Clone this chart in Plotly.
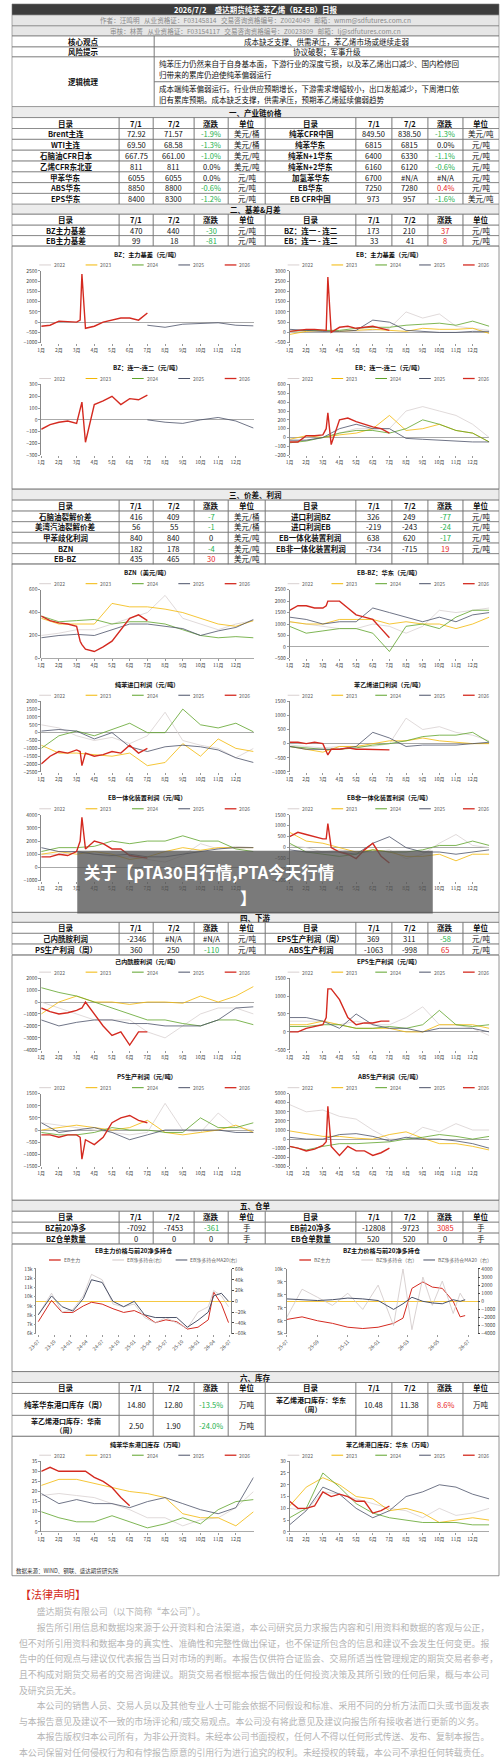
import plotly.graph_objects as go

W, H = 500, 1764
FONT = "Noto Sans CJK SC"

# ---------------- table data ----------------
TITLE = "2026/7/2     盛达期货纯苯-苯乙烯（BZ-EB）日报"
AUTHOR = "作者：汪鸣明   从业资格证：F03145814   交易咨询资格编号：Z0024049   邮箱：wmm@sdfutures.com.cn"
REVIEW = "审核：林菁   从业资格证：F03154117   交易咨询资格编号：Z0023809   邮箱：lj@sdfutures.com.cn"
CORE = "成本缺乏支撑、供需承压，苯乙烯市场或继续走弱"
RISK = "协议破裂；军事升级"
LOGIC1 = ["纯苯压力仍然来自于自身基本面，下游行业的深度亏损，以及苯乙烯出口减少、国内检修回",
          "归带来的累库仍迫使纯苯偏弱运行"]
LOGIC2 = ["成本端纯苯偏弱运行。行业供应预期增长，下游需求增幅较小，出口发船减少，下周港口依",
          "旧有累库预期。成本缺乏支撑，供需承压，预期苯乙烯延续偏弱趋势"]
HEAD = ["目录", "7/1", "7/2", "涨跌", "单位", "目录", "7/1", "7/2", "涨跌", "单位"]

SEC1 = [
    ["Brent主连", "72.92", "71.57", "-1.9%", "美元/桶", "纯苯CFR中国", "849.50", "838.50", "-1.3%", "美元/吨"],
    ["WTI主连", "69.50", "68.58", "-1.3%", "美元/桶", "纯苯华东", "6815", "6815", "0.0%", "元/吨"],
    ["石脑油CFR日本", "667.75", "661.00", "-1.0%", "美元/吨", "纯苯N+1华东", "6400", "6330", "-1.1%", "元/吨"],
    ["乙烯CFR东北亚", "811", "811", "0.0%", "美元/吨", "纯苯N+2华东", "6160", "6120", "-0.6%", "元/吨"],
    ["甲苯华东", "6055", "6055", "0.0%", "元/吨", "加氢苯华东", "6700", "#N/A", "#N/A", "元/吨"],
    ["ABS华东", "8850", "8800", "-0.6%", "元/吨", "EB华东", "7250", "7280", "0.4%", "元/吨"],
    ["EPS华东", "8400", "8300", "-1.2%", "元/吨", "EB CFR中国", "973", "957", "-1.6%", "美元/吨"],
]
SEC2 = [
    ["BZ主力基差", "470", "440", "-30", "元/吨", "BZ：连一 - 连二", "173", "210", "37", "元/吨"],
    ["EB主力基差", "99", "18", "-81", "元/吨", "EB：连一 - 连二", "33", "41", "8", "元/吨"],
]
SEC3 = [
    ["石脑油裂解价差", "416", "409", "-7", "美元/桶", "进口利润BZ", "326", "249", "-77", "元/吨"],
    ["美湾汽油裂解价差", "56", "55", "-1", "美元/桶", "进口利润EB", "-219", "-243", "-24", "元/吨"],
    ["甲苯歧化利润", "840", "840", "0", "美元/吨", "EB一体化装置利润", "638", "620", "-17", "元/吨"],
    ["BZN", "182", "178", "-4", "美元/吨", "EB非一体化装置利润", "-734", "-715", "19", "元/吨"],
    ["EB-BZ", "435", "465", "30", "美元/吨", "", "", "", "", ""],
]
SEC4 = [
    ["己内酰胺利润", "-2346", "#N/A", "#N/A", "元/吨", "EPS生产利润（周）", "369", "311", "-58", "元/吨"],
    ["PS生产利润（周）", "360", "250", "-110", "元/吨", "ABS生产利润", "-1063", "-998", "65", "元/吨"],
]
SEC5 = [
    ["BZ前20净多", "-7092", "-7453", "-361", "手", "EB前20净多", "-12808", "-9723", "3085", "手"],
    ["BZ仓单数量", "0", "0", "0", "手", "EB仓单数量", "520", "520", "0", "手"],
]
SEC6 = [
    ["纯苯华东港口库存（周）", "14.80", "12.80", "-13.5%", "万吨", "苯乙烯港口库存：华东<br>（周）", "10.48", "11.38", "8.6%", "万吨"],
    ["苯乙烯港口库存：华南<br>（周）", "2.50", "1.90", "-24.0%", "万吨", "", "", "", "", ""],
]

# ---------------- seasonal chart data (month 1..13) ----------------
MONTHS = list(range(1, 14))
X26 = [1, 1.5, 2, 2.5, 3, 3.2, 3.3, 3.5, 4, 4.5, 5, 5.5, 6, 6.5, 7]
X26_INV = [1, 1.5, 2, 2.5, 3, 3.5, 4, 4.5, 5, 5.5, 6, 6.5, 7]
N = None

bz_basis = {
    "2025": [N, N, N, N, N, N, -150, -250, -100, -50, -30, -150, -180],
    "2026": [-200, -150, 50, 30, 0, 100, 2350, -300, -200, 0, 100, 200, 200, 100, 450],
}
eb_basis = {
    "2022": [0, 50, 50, 0, 50, 100, 200, 1000, 700, 900, 300, 200, 100],
    "2023": [-100, 50, 100, 50, 100, 150, 100, 50, 200, 150, 150, 200, -50],
    "2024": [50, 100, 100, 100, 200, 250, 250, 350, 400, 450, 350, 550, 300],
    "2025": [150, 100, 50, 50, 100, 600, 500, 100, 50, 0, 0, 50, 50],
    "2026": [50, 100, 150, 150, 100, 100, 2700, 0, 250, 300, 200, 250, 300, 200, 100],
}
bz_spread = {
    "2025": [N, N, N, N, N, N, 0, -20, -30, 0, 20, -10, -70],
    "2026": [-80, -40, -20, -10, -30, 80, 150, -190, 130, 160, 200, 130, 180, 170, 210],
}
eb_spread = {
    "2022": [-40, -30, 0, 50, 100, 100, 100, 300, 350, 300, 250, 150, 0],
    "2023": [-20, 20, 0, 30, 50, 100, 250, 80, 100, 150, 80, 50, -50],
    "2024": [-60, -40, 0, 50, 80, 80, 50, 100, 200, 150, 80, 50, -50],
    "2025": [-30, -30, 0, 100, 150, 100, 100, -10, -20, -30, -40, -50, -50],
    "2026": [-50, -50, 20, 20, 30, 100, 280, -80, 200, 220, 180, 150, 120, 100, 50],
}
bzn = {
    "2022": [200, 220, 250, 250, 300, 350, 400, 550, 350, 300, 250, 300, 330],
    "2023": [350, 300, 300, 300, 480, 450, 450, 430, 400, 350, 300, 280, 330],
    "2024": [370, 320, 330, 340, 300, 320, 320, 300, 250, 200, 180, 190, 180],
    "2025": [180, 200, 210, 200, 250, 300, 300, 280, 260, 200, 240, 270, 340],
    "2026": [370, 330, 310, 300, 280, 150, 120, 80, 60, 100, 150, 250, 350, 380, 330],
}
eb_bz = {
    "2022": [1100, 1000, 900, 800, 800, 1000, 900, 600, 900, 1600, 1500, 1600, 1700],
    "2023": [1100, 1000, 1000, 1200, 1200, 1200, 1000, 1100, 1000, 1000, 800, 1000, 1300],
    "2024": [900, 600, 700, 800, 800, 600, -200, 900, 1000, 800, 1300, 1600, 1600],
    "2025": [1300, 1200, 1000, 1100, 1100, 1700, 1500, 1300, 1100, 1300, 1100, 1400, 1500],
    "2026": [1600, 1800, 1800, 1700, 1700, 1800, 2000, 2000, 2000, 1700, 1400, 1300, 1200, 800, 400],
}
bz_import = {
    "2022": [500, 300, -200, -500, -300, -700, -200, 1300, -500, -800, -1000, -1600, -1000],
    "2023": [-800, -1300, -1300, -1400, -1500, -1300, -2100, -1900, -700, -1500, -400, -1000, -1200],
    "2024": [-1000, -200, 100, -200, 200, 600, 0, 0, 1500, 500, 300, 600, 50],
    "2025": [100, 200, 100, -400, 0, -900, -1200, -900, -800, -900, -1100, -1600, -1900],
    "2026": [-2000, -1500, -1200, -1300, -1100, -1200, -2100, -1300, -1500, -1400, -1200, -1300, -800, -1300, -1000],
}
eb_import = {
    "2022": [-50, -100, -150, -100, -100, -100, 0, 900, 500, 600, 400, 300, 100],
    "2023": [-100, -200, -300, -100, -100, 0, 100, 100, 200, 100, 50, 0, 0],
    "2024": [-100, -150, -200, -200, -150, -50, 0, 100, 250, 300, 300, 400, 50],
    "2025": [-100, -200, -200, -200, -100, 400, 200, -100, -50, -50, -50, 0, 50],
    "2026": [50, 50, 0, 50, 0, -300, -400, -200, -200, -150, -200, -200, -200, -200, -220],
}
eb_integ = {
    "2022": [1000, 1000, 1200, 1000, 800, 800, 600, 400, 900, 1800, 1400, 1600, 1500],
    "2023": [1000, 1200, 1000, 1200, 1000, 600, 800, 1200, 1500, 1300, 1500, 1500, 1500],
    "2024": [1200, 1500, 1500, 1600, 2000, 1800, 2000, 2000, 2400, 2000, 2000, 1400, 1200],
    "2025": [1500, 1200, 1200, 1000, 900, 1000, 800, 800, 1000, 1200, 1400, 1500, 1500],
    "2026": [800, 800, 1000, 900, 1200, 2000, 3800, 1400, 2000, 1800, 1400, 1400, 900, 800, 700],
}
eb_nonint = {
    "2022": [100, 0, -200, -100, -200, -200, -100, -500, -300, 200, 600, 100, 0],
    "2023": [700, 300, 200, 0, -200, -100, -200, -400, -400, -300, -600, -300, -300],
    "2024": [200, -200, -300, -400, -300, -100, -200, -200, -100, 100, 100, 300, 100],
    "2025": [-100, -200, -200, -200, -300, 200, 500, 0, -200, -200, -300, -200, -100],
    "2026": [500, 700, 600, 500, 400, 400, 1100, 0, -200, -300, -500, -100, 200, -400, -700],
}
cpl = {
    "2022": [0, -500, -1000, -1500, -1500, -1500, -2500, -3000, -2000, -1000, -500, -500, -1000],
    "2023": [-1000, 0, 500, 0, 0, -200, 0, 0, -100, 500, 0, 500, 1300],
    "2024": [1200, 800, 500, 0, -500, -1000, -1500, -1500, -1800, -2000, -1500, -1500, -1900],
    "2025": [-1500, -2000, -1700, -1500, -1500, -1800, -1800, -2000, -2000, -2000, -1500, -500, -400],
    "2026": [-500, -800, -1000, -900, -700, -600, -500, 0, -1000, -2000, -2800, -2500, -3600, -2500, -2500],
}
eps = {
    "2022": [300, 300, 300, 200, 300, 200, 200, 400, 700, 200, 200, 100, -100],
    "2023": [200, 200, 300, 200, 100, 100, 100, 0, 0, 200, 200, 200, 100],
    "2024": [150, 150, 200, 200, 100, 100, 150, 100, 200, 600, 200, 150, 200],
    "2025": [400, 400, 300, 100, 500, 200, 100, 100, 0, 100, 100, 100, 0],
    "2026": [0, 0, 100, 150, 200, 400, 1200, 1200, 900, 400, 200, 250, 250, 300, 300],
}
ps = {
    "2022": [300, 200, 100, 0, -100, -200, -100, 1100, 0, -100, 700, 100, 0],
    "2023": [0, 100, 200, 100, 0, 100, 400, -100, -200, -100, 0, 200, -100],
    "2024": [-100, -200, -200, -100, 100, 0, 0, -100, -100, 500, 100, 100, 300],
    "2025": [300, -100, 0, 100, -100, -400, -200, 0, 0, 0, 0, -100, -100],
    "2026": [-200, -200, -300, -200, -200, -300, -1200, -400, -600, -300, 300, 500, 600, 400, 300],
}
abs_ = {
    "2022": [3800, 3000, 3200, 2500, 2200, 1000, 0, 0, 1300, 800, 1700, 1000, 1000],
    "2023": [900, 600, 300, 300, 100, 0, 500, 800, 100, -500, -500, -800, -1200],
    "2024": [-800, -1200, -800, -500, -500, -400, -300, 0, 200, 500, 300, 0, 300],
    "2025": [200, 0, 0, 500, 600, 300, -200, 200, 0, 0, -200, -500, -1000],
    "2026": [-800, -1000, -1300, -1100, -700, -300, 3600, -800, -1800, -800, -1300, -1300, -1800, -1500, -1000],
}
bz_inv = {
    "2022": [18, 19, 18, 17, 14, 11, 7, 7, 3, 6, 7, 12, 20],
    "2023": [23, 26, 26, 24, 22, 20, 19, 17, 9, 7, 7, 3, 10],
    "2024": [10, 7, 5, 5, 8, 5, 2, 4, 7, 4, 11, 15, 16],
    "2025": [19, 14, 16, 14, 14, 12, 15, 17, 14, 11, 9, 12, 27],
    "2026": [30, 32, 30, 30, 30, 30, 27, 25, 22, 17, 13],
}
eb_inv = {
    "2022": [10, 9, 17, 16, 14, 12, 10, 9, 6, 10, 7, 8, 10],
    "2023": [11, 19, 23, 20, 15, 14, 9, 10, 8, 4, 5, 6, 5],
    "2024": [6, 10, 25, 19, 12, 8, 6, 5, 4, 4, 4, 3, 3],
    "2025": [3, 9, 19, 16, 10, 6, 9, 15, 17, 20, 19, 16, 14],
    "2026": [13, 10, 10, 11, 17, 15, 16, 15, 13, 13, 8, 9, 11],
}

# futures price vs top-20 net long
EB_DATES = ["2023-07-01", "2023-09-15", "2023-11-15", "2024-01-15", "2024-03-15", "2024-05-01",
            "2024-07-01", "2024-09-01", "2024-11-01", "2025-01-01", "2025-03-01", "2025-05-01",
            "2025-07-01", "2025-09-01", "2025-11-01", "2026-01-01", "2026-03-01", "2026-04-01",
            "2026-05-15", "2026-06-25"]
EB_PRICE = [7300, 9600, 8300, 8300, 9000, 9400, 9200, 8700, 8300, 8500, 8000, 7200,
            7500, 7300, 6500, 6700, 7500, 10500, 9200, 7200]
EB_NET = [-25000, 15000, -20000, -15000, 10000, 50000, 40000, -5000, -10000, -5000, -30000,
          -40000, -30000, -40000, -50000, -20000, -10000, 20000, 10000, -10000]
EB_MA20 = [-25000, 10000, -10000, -18000, 5000, 40000, 35000, 0, -10000, 0, -25000, -30000,
           -30000, -30000, -48000, -35000, -20000, 10000, 15000, 0]

BZ_DATES = ["2025-07-01", "2025-08-01", "2025-09-01", "2025-10-01", "2025-11-01", "2025-12-01",
            "2026-01-01", "2026-02-01", "2026-02-20", "2026-03-10", "2026-04-01", "2026-04-20",
            "2026-05-10", "2026-06-01", "2026-06-15", "2026-06-25"]
BZ_PRICE = [6100, 6300, 6000, 5800, 5500, 5400, 5500, 5800, 6200, 8500, 9000, 8600, 8500, 7500, 6300, 6400]
BZ_NET = [-2000, 1500, 500, -500, 1000, -1000, 2000, -3000, 4000, -3500, 3000, -500, 2500, -1500, 1000, 0]
BZ_MA20 = [300, 200, 100, 200, 400, 300, 100, -1000, -300, 500, 0, -200, -300, 200, 0, 200]

LEGAL = [
    ("　　盛达期货有限公司（以下简称“本公司”）。", 1614),
    ("　　报告所引用信息和数据均来源于公开资料和合法渠道，本公司研究员力求报告内容和引用资料和数据的客观与公正，", 1630),
    ("但不对所引用资料和数据本身的真实性、准确性和完整性做出保证，也不保证所包含的信息和建议不会发生任何变更。报", 1646),
    ("告中的任何观点与建议仅代表报告当日对市场的判断。本报告仅供符合证监会、交易所适当性管理规定的期货交易者参考，", 1661),
    ("且不构成对期货交易者的交易咨询建议。期货交易者根据本报告做出的任何投资决策及其所引致的任何后果，概与本公司", 1677),
    ("及研究员无关。", 1693),
    ("　　本公司的销售人员、交易人员以及其他专业人士可能会依据不同假设和标准、采用不同的分析方法而口头或书面发表", 1708),
    ("与本报告意见及建议不一致的市场评论和/或交易观点。本公司没有将此意见及建议向报告所有接收者进行更新的义务。", 1724),
    ("　　本报告版权归本公司所有，为非公开资料。未经本公司书面授权，任何人不得以任何形式传送、发布、复制本报告。", 1739),
    ("本公司保留对任何侵权行为和有悖报告原意的引用行为进行追究的权利。未经授权的转载，本公司不承担任何转载责任。", 1755),
]

COLORS = {"2022": "#d8d0d0", "2023": "#f2b705", "2024": "#5ea32a", "2025": "#4b5268", "2026": "#d42a20"}
COLS = [0, 110, 145, 187, 222, 260, 353, 390, 427, 463, 500]

fig = go.Figure()
shapes, annos = [], []


def px(x):
    return x / W


def py(y):
    return 1 - y / H


def rect(x0, y0, x1, y1, fill=None, line="#777", lw=0.6):
    shapes.append(dict(type="rect", xref="paper", yref="paper", x0=px(x0), x1=px(x1),
                       y0=py(y1), y1=py(y0), fillcolor=fill or "rgba(0,0,0,0)",
                       line=dict(color=line, width=lw), layer="below"))


def text(x, y, s, size=7.5, color="#111", bold=False, anchor="center", angle=0):
    if bold:
        s = "<b>" + s + "</b>"
    annos.append(dict(x=px(x), y=py(y), xref="paper", yref="paper", text=s, showarrow=False,
                      xanchor=anchor, yanchor="middle", textangle=angle,
                      font=dict(size=size, color=color, family=FONT)))


def chg_color(s):
    if s.startswith("-"):
        return "#22b04a"
    if s in ("0", "0.0%", "#N/A", ""):
        return "#111"
    return "#e8241c"


def table_row(y0, y1, cells, head=False):
    for i, c in enumerate(cells):
        x0, x1 = COLS[i], COLS[i + 1]
        rect(x0, y0, x1, y1)
        col = chg_color(c) if (i in (3, 8) and not head) else "#111"
        bold = head or i in (0, 5)
        size = 7 if "<br>" in c else 7.5
        text((x0 + x1) / 2, (y0 + y1) / 2, c, size=size, color=col, bold=bold)


def section(y0, y1, title):
    rect(0, y0, 500, y1, fill="#ececec")
    text(250, (y0 + y1) / 2, title, size=7.5, bold=True)


def table(y0, rows, rh=10.7):
    table_row(y0, y0 + 11, HEAD, head=True)
    y = y0 + 11
    for r in rows:
        table_row(y, y + rh, r)
        y += rh


# ---------------- top block ----------------
rect(0, 0, 500, 11, fill="#3d3d3d")
text(250, 5.5, TITLE, size=7.5, color="white", bold=True)
rect(0, 11, 500, 22, fill="#e6e6e6")
text(250, 16.5, AUTHOR, size=6.6, color="#8a8a8a")
rect(0, 22, 500, 32, fill="#e6e6e6")
text(250, 27, REVIEW, size=6.6, color="#8a8a8a")
rect(0, 32, 146, 43); rect(146, 32, 500, 43)
text(73, 37.5, "核心观点", bold=True); text(323, 37.5, CORE)
rect(0, 43, 146, 53); rect(146, 43, 500, 53)
text(73, 48, "风险提示", bold=True); text(323, 48, RISK)
rect(0, 53, 146, 103); rect(146, 53, 500, 78); rect(146, 78, 500, 103)
text(73, 78, "逻辑梳理", bold=True)
text(149, 60, LOGIC1[0], anchor="left"); text(149, 71, LOGIC1[1], anchor="left")
text(149, 85, LOGIC2[0], anchor="left"); text(149, 96, LOGIC2[1], anchor="left")

section(103, 114, "一、产业链价格")
table(114, SEC1, rh=10.86)
section(201, 211, "二、基差&月差")
table(211, SEC2, rh=10.5)
section(487, 498, "三、价差、利润")
table(498, SEC3, rh=10.7)
section(912, 922, "四、下游")
table(922, SEC4, rh=10.7)
section(1201, 1212, "五、仓单")
table(1212, SEC5, rh=10.9)
section(1373, 1384, "六、库存")
table_row(1384, 1395, HEAD, head=True)
table_row(1395, 1417, SEC6[0])
table_row(1417, 1438, SEC6[1])

# frames around chart areas
for y0, y1 in [(243, 487), (562, 912), (955, 1201), (1245, 1373), (1438, 1578)]:
    rect(0, y0, 500, y1, line="#777", lw=0.8)

# ---------------- charts ----------------
layout_axes = {}
ax_n = [0]


def new_axes(x0, x1, y0, y1, yrange, dtick, xtype="linear", xrange=None, xticks=None):
    ax_n[0] += 1
    n = ax_n[0]
    xa = "xaxis" if n == 1 else "xaxis%d" % n
    ya = "yaxis" if n == 1 else "yaxis%d" % n
    xs = dict(domain=[px(x0), px(x1)], anchor="y" if n == 1 else "y%d" % n, showgrid=False,
              zeroline=False, showline=False, ticks="outside", ticklen=2, tickcolor="#999",
              tickfont=dict(size=5, color="#444", family=FONT))
    if xtype == "linear":
        xs.update(range=[1, 13], tickvals=list(range(1, 13)),
                  ticktext=["%d月" % m for m in range(1, 13)])
    else:
        xs.update(type="date", range=xrange, tickvals=xticks,
                  ticktext=[t[2:7] for t in xticks], tickangle=-45)
    ys = dict(domain=[py(y1), py(y0)], anchor="x" if n == 1 else "x%d" % n, range=yrange,
              dtick=dtick, showgrid=False, zeroline=True, zerolinecolor="#aaa", zerolinewidth=0.8,
              showline=True, linecolor="#888", linewidth=0.6, ticks="outside", ticklen=2,
              tickcolor="#999", tickfont=dict(size=5, color="#444", family=FONT))
    layout_axes[xa] = xs
    layout_axes[ya] = ys
    return ("x" if n == 1 else "x%d" % n), ("y" if n == 1 else "y%d" % n)


def legend(x0, x1, y, names, colors):
    step = (x1 - x0) / len(names)
    for i, (nm, c) in enumerate(zip(names, colors)):
        lx = x0 + i * step + 8
        shapes.append(dict(type="line", xref="paper", yref="paper", x0=px(lx), x1=px(lx + 12),
                           y0=py(y), y1=py(y), line=dict(color=c, width=1.3 if c == COLORS["2026"] else 1)))
        text(lx + 13, y, nm, size=5, color="#666", anchor="left")


def seasonal(x0, x1, y0, y1, title, data, yrange, dtick, x26=X26):
    xr, yr = new_axes(x0, x1, y0, y1, yrange, dtick)
    text((x0 + x1) / 2, y0 - 17, title, size=6.2, bold=True)
    legend(x0 - 10, x1 + 10, y0 - 6, ["2022", "2023", "2024", "2025", "2026"],
           [COLORS[k] for k in ["2022", "2023", "2024", "2025", "2026"]])
    for yr_name, vals in data.items():
        xs = x26 if yr_name == "2026" else MONTHS
        fig.add_trace(go.Scatter(x=xs, y=vals, mode="lines", xaxis=xr, yaxis=yr, showlegend=False,
                                 line=dict(color=COLORS[yr_name], width=1.4 if yr_name == "2026" else 0.8)))


L, R = (30, 248), (285, 490)
seasonal(*L, 268, 340, "BZ：主力基差（元/吨）", bz_basis, [-1000, 2500], 500)
seasonal(*R, 268, 340, "EB：主力基差（元/吨）", eb_basis, [-500, 3000], 500)
seasonal(*L, 382, 453, "BZ：连一-连二（元/吨）", bz_spread, [-300, 300], 100)
seasonal(*R, 382, 453, "EB：连一-连二（元/吨）", eb_spread, [-200, 600], 100)
seasonal(*L, 588, 657, "BZN（美元/吨）", bzn, [0, 600], 200)
seasonal(*R, 588, 657, "EB-BZ：华东（元/吨）", eb_bz, [-500, 2500], 500)
seasonal(*L, 700, 771, "纯苯进口利润（元/吨）", bz_import, [-2500, 2000], 500)
seasonal(*R, 700, 771, "苯乙烯进口利润（元/吨）", eb_import, [-1000, 1500], 500)
seasonal(*L, 814, 880, "EB一体化装置利润（元/吨）", eb_integ, [-1000, 4000], 1000)
seasonal(*R, 814, 880, "EB非一体化装置利润（元/吨）", eb_nonint, [-1500, 1500], 500)
seasonal(*L, 978, 1050, "己内酰胺利润（元/吨）", cpl, [-4000, 2000], 1000)
seasonal(*R, 978, 1050, "EPS生产利润（元/吨）", eps, [-500, 1500], 500)
seasonal(*L, 1094, 1167, "PS生产利润（元/吨）", ps, [-1500, 1500], 500)
seasonal(*R, 1094, 1167, "ABS生产利润（元/吨）", abs_, [-3000, 5000], 1000)
seasonal(*L, 1463, 1534, "纯苯华东港口库存（万吨）", bz_inv, [0, 35], 5, x26=X26_INV)
seasonal(*R, 1463, 1534, "苯乙烯港口库存：华东（万吨）", eb_inv, [0, 30], 5, x26=X26_INV)


def dual(x0, x1, y0, y1, title, names, dates, price, net, ma, lrange, ldt, rrange, rdt, xrange, xticks):
    xr, yr = new_axes(x0, x1, y0, y1, lrange, ldt, xtype="date", xrange=xrange, xticks=xticks)
    layout_axes["yaxis" + yr[1:]]["zeroline"] = False
    ax_n[0] += 1
    n = ax_n[0]
    y2 = "y%d" % n
    layout_axes["yaxis%d" % n] = dict(overlaying=yr, side="right", anchor=xr, range=rrange, dtick=rdt,
                                      showgrid=False, zeroline=True, zerolinecolor="#f5c842",
                                      zerolinewidth=1, showline=True, linecolor="#888", linewidth=0.6,
                                      ticks="outside", ticklen=2,
                                      tickfont=dict(size=5, color="#444", family=FONT))
    text((x0 + x1) / 2, y0 - 19, title, size=6.2, bold=True)
    legend(x0 + 5, x1, y0 - 9, names, ["#d42a20", "#cfc6c6", "#4b5268"])
    fig.add_trace(go.Scatter(x=dates, y=net, mode="lines", xaxis=xr, yaxis=y2, showlegend=False,
                             line=dict(color="#cfc6c6", width=0.8)))
    fig.add_trace(go.Scatter(x=dates, y=ma, mode="lines", xaxis=xr, yaxis=y2, showlegend=False,
                             line=dict(color="#4b5268", width=1)))
    fig.add_trace(go.Scatter(x=dates, y=price, mode="lines", xaxis=xr, yaxis=yr, showlegend=False,
                             line=dict(color="#d42a20", width=1)))


dual(25, 225, 1270, 1335, "EB主力价格与前20净多持仓", ["EB主力", "EB净多持仓(右)", "EB净多持仓MA20(右)"],
     EB_DATES, EB_PRICE, EB_NET, EB_MA20, [6000, 13000], 1000, [-60000, 60000], 20000,
     ["2023-06-20", "2026-07-10"],
     ["2023-07-01", "2023-10-01", "2024-01-01", "2024-04-01", "2024-07-01", "2024-10-01", "2025-01-01",
      "2025-04-01", "2025-07-01", "2025-10-01", "2026-01-01", "2026-04-01", "2026-07-01"])
dual(282, 478, 1270, 1335, "BZ主力价格与前20净多持仓", ["BZ主力", "BZ净多持仓（右）", "BZ净多持仓MA20（右）"],
     BZ_DATES, BZ_PRICE, BZ_NET, BZ_MA20, [5000, 10000], 1000, [-4000, 4000], 1000,
     ["2025-07-01", "2026-07-20"],
     ["2025-07-01", "2025-09-01", "2025-11-01", "2026-01-01", "2026-03-01", "2026-05-01", "2026-07-01"])

text(2, 1573, "数据来源：WIND、钢联、盛达期货研究院", size=5.5, color="#333", anchor="left")

# ---------------- legal ----------------
text(6, 1596, "【法律声明】", size=11, color="#d42a20", anchor="left")
for line, y in LEGAL:
    text(5, y, line, size=8.9, color="#b5b5b5", anchor="left")

# ---------------- watermark ----------------
shapes.append(dict(type="rect", xref="paper", yref="paper", x0=px(67), x1=px(432), y0=py(913), y1=py(850),
                   fillcolor="rgba(85,85,85,0.78)", line=dict(width=0), layer="above"))
text(72, 871, "关于【pTA30日行情,PTA今天行情", size=16.5, color="white", bold=True, anchor="left")
text(243, 898, "】", size=16.5, color="white", bold=True)

fig.update_layout(width=W, height=H, margin=dict(l=0, r=0, t=0, b=0), paper_bgcolor="white",
                  plot_bgcolor="white", shapes=shapes, annotations=annos, showlegend=False,
                  font=dict(family=FONT), **layout_axes)
fig.write_html("out.html", config={"displayModeBar": False},
               post_script="document.body.style.margin='0';document.body.style.overflow='hidden';")
